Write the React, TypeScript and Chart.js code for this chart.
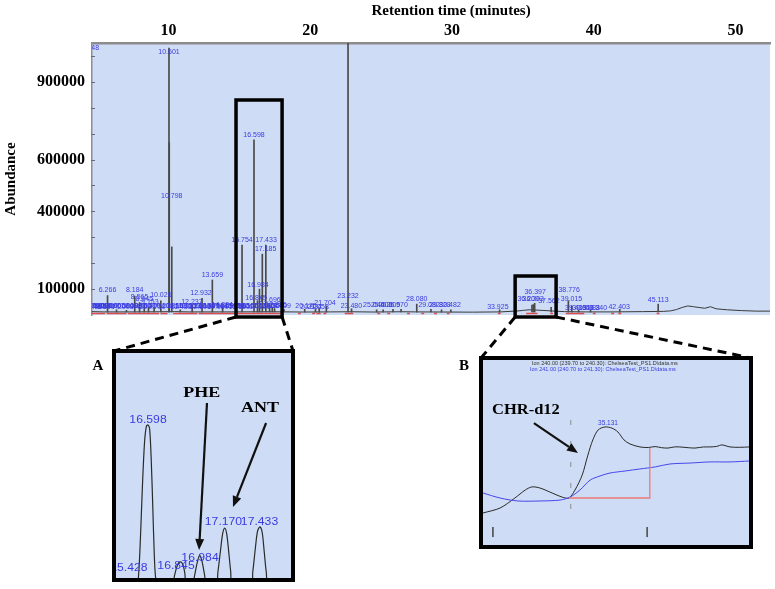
import React, { useEffect, useRef } from 'react';
import { Chart, registerables } from 'chart.js';

Chart.register(...registerables);

const SERIF = "'Liberation Serif', 'Times New Roman', serif";
const SANS = "'Liberation Sans', Arial, sans-serif";
const BG = 'rgb(206,221,245)';
const LABEL_BLUE = 'rgb(58,58,225)';

// ---------- main chromatogram ----------
const xTickValues = [10, 20, 30, 40, 50];
const yTickValues = [100000, 400000, 600000, 900000];
const yMinorTicks = [100000, 200000, 300000, 400000, 500000, 600000, 700000, 800000, 900000, 1000000];

const baselineTimes = [5.17, 6, 8, 10, 11, 12, 15, 18, 20, 22, 23.5, 25, 27, 28, 30, 32, 34, 35.3, 35.6, 36.0, 36.5, 37.2, 37.8, 38.5, 40, 42, 44, 45.5, 46.0, 46.4, 46.8, 47.2, 47.6, 48.0, 48.4, 48.8, 49.2, 50, 51, 52, 53];
const baselineValues = [13000, 12000, 12000, 12500, 13000, 12000, 12000, 12500, 11500, 12000, 12500, 11500, 12500, 12000, 11500, 11000, 12000, 16000, 18000, 20000, 19000, 17000, 15000, 13000, 12000, 12000, 13000, 14000, 16000, 21000, 29000, 35000, 32000, 29000, 26000, 32000, 24000, 20000, 17000, 15000, 15000];

const peakBase = 11500;
const peakTimes = [6.266, 6.9, 7.6, 8.184, 8.525, 8.855, 9.153, 9.55, 10.026, 10.601, 10.62, 10.798, 11.4, 12.237, 12.932, 13.659, 14.384, 15.754, 16.598, 16.845, 16.984, 17.185, 17.433, 17.696, 17.886, 18.05, 18.709, 20.175, 20.934, 21.2, 21.704, 23.232, 23.48, 25.25, 25.71, 26.406, 26.97, 28.08, 29.082, 29.828, 30.482, 33.925, 36.209, 36.303, 36.397, 37.562, 38.776, 39.015, 39.5, 40.34, 42.403, 45.113];
const peakHeights = [75000, 20000, 18000, 73000, 48000, 45000, 30000, 28000, 55000, 1030000, 665000, 263000, 20000, 38000, 64000, 135000, 30000, 270000, 676000, 55000, 100000, 235000, 270000, 38000, 30000, 25000, 22000, 22000, 22000, 25000, 35000, 1050000, 24000, 20000, 20000, 22000, 22000, 42000, 22000, 20000, 20000, 20000, 38000, 40000, 45000, 30000, 55000, 35000, 18000, 18000, 22000, 42000];

const mainLabelTexts = ['5.048', '6.266', '8.184', '8.565', '8.945', '9.153', '10.026', '10.601', '10.798', '12.237', '12.932', '13.659', '14.384', '15.754', '16.598', '16.984', '16.845', '17.433', '17.185', '17.696', '17.886', '18.709', '20.175', '20.934', '21.058', '21.704', '23.232', '23.480', '25.044', '25.606', '26.205', '26.970', '28.080', '29.082', '29.828', '30.482', '33.925', '36.397', '36.209', '36.303', '37.562', '38.776', '39.015', '39.413', '39.653', '39.988', '40.340', '42.403', '45.113'];
const mainLabelTimes = [5.05, 6.266, 8.184, 8.53, 8.86, 9.25, 10.026, 10.601, 10.798, 12.22, 12.86, 13.659, 14.36, 15.754, 16.598, 16.88, 16.74, 17.45, 17.42, 17.73, 18.15, 18.45, 20.27, 20.62, 21.12, 21.61, 23.232, 23.47, 25.05, 25.6, 26.15, 26.7, 28.08, 28.95, 29.72, 30.43, 33.8, 36.43, 35.94, 36.3, 37.4, 38.83, 39.0, 39.3, 39.8, 40.25, 40.75, 42.36, 45.113];
const mainLabelValues = [1030000, 96500, 96500, 69500, 62000, 50000, 77000, 1015000, 459000, 50000, 85000, 154000, 38600, 289500, 695000, 116000, 65600, 289500, 255000, 58000, 38600, 35000, 35000, 31000, 31000, 46000, 73000, 35000, 38600, 38600, 38600, 38600, 62000, 38600, 38600, 38600, 31000, 89000, 62000, 62000, 54000, 96500, 62000, 27000, 27000, 27000, 27000, 31000, 58000];

// dense run of peak labels along the baseline
const clusterLabelTimes = [5.25, 5.4, 5.55, 5.7, 5.85, 6.0, 6.15, 6.4, 6.6, 6.9, 7.2, 7.5, 7.8, 8.1, 8.45, 8.75, 9.05, 9.4, 9.75, 10.2, 10.85, 11.15, 11.45, 11.75, 12.05, 12.5, 12.8, 13.1, 13.4, 13.75, 14.05, 14.65, 14.95, 15.25, 15.55, 15.85, 16.15, 16.45, 17.0, 17.3, 17.65, 17.95];
const clusterLabelValues = [33000, 36000, 32000, 35000, 33000, 36000, 32000, 34000, 33000, 35000, 32000, 34000, 33000, 36000, 31000, 34000, 33000, 35000, 32000, 34000, 33000, 36000, 32000, 34000, 33000, 35000, 32000, 34000, 33000, 35000, 32000, 34000, 33000, 36000, 32000, 34000, 33000, 35000, 32000, 34000, 33000, 35000];

const integrationStarts = [5.17, 6.2, 7.7, 10.0, 10.9, 12.7, 15.4, 19.7, 20.7, 21.0, 21.5, 23.0, 25.3, 26.0, 27.4, 28.4, 29.3, 30.2, 33.8, 35.8, 37.5, 38.6, 40.5, 41.8, 42.3, 45.0];
const integrationEnds = [6.1, 7.6, 9.9, 10.5, 12.6, 15.3, 18.5, 19.9, 20.9, 21.3, 21.7, 23.6, 25.5, 26.2, 27.6, 28.6, 29.5, 30.4, 34.0, 36.6, 37.7, 39.9, 40.7, 42.0, 42.5, 45.2];
const integrationLevel = 6000;

// zoom windows marked on the main trace (time range, top abundance)
const zoomRangeA = [15.33, 18.58];
const zoomTopA = 830000;
const zoomRangeB = [35.02, 37.91];
const zoomTopB = 150500;

// ---------- inset A (PHE / ANT) ----------
const insetATimes = [16.359, 16.515, 16.527, 16.54, 16.556, 16.572, 16.586, 16.598, 16.61, 16.622, 16.634, 16.645, 16.655, 16.67, 16.78, 16.795, 16.81, 16.825, 16.845, 16.86, 16.872, 16.885, 16.93, 16.945, 16.965, 16.984, 17.003, 17.02, 17.035, 17.105, 17.12, 17.14, 17.155, 17.17, 17.185, 17.2, 17.215, 17.23, 17.365, 17.38, 17.4, 17.415, 17.433, 17.45, 17.465, 17.48, 17.5, 17.665];
const insetAValues = [-40000, -40000, 0, 150000, 400000, 600000, 672000, 677000, 660000, 520000, 300000, 90000, -10000, -40000, -40000, 0, 35000, 58000, 63000, 48000, 15000, -40000, -40000, 0, 60000, 94000, 60000, 5000, -40000, -40000, 20000, 120000, 190000, 215000, 190000, 110000, 20000, -40000, -40000, 20000, 130000, 200000, 220000, 195000, 110000, 20000, -40000, -40000];
const insetALabelTexts = ['16.598', '16.845', '16.984', '17.170', '17.433', '15.428'];
const insetALabelTimes = [16.598, 16.807, 16.986, 17.161, 17.43, 16.455];
const insetALabelValues = [699600, 44800, 80700, 242000, 242000, 36000];

// ---------- inset B (CHR-d12) ----------
const ion240Times = [34.81, 34.855, 34.894, 34.921, 34.939, 34.96, 34.992, 35.018, 35.036, 35.052, 35.071, 35.086, 35.099, 35.113, 35.131, 35.149, 35.165, 35.181, 35.197, 35.223, 35.245, 35.263, 35.28, 35.297, 35.313, 35.328, 35.35, 35.368, 35.39, 35.407, 35.425, 35.439, 35.46, 35.485, 35.51];
const ion240Values = [173, 200, 254, 297, 314, 308, 281, 259, 254, 297, 378, 486, 568, 622, 638, 632, 611, 568, 546, 530, 527, 532, 526, 524, 530, 530, 526, 524, 530, 530, 533, 541, 530, 528, 530];
const ion241Times = [34.81, 34.855, 34.902, 34.96, 35.013, 35.039, 35.065, 35.092, 35.118, 35.144, 35.184, 35.223, 35.263, 35.302, 35.355, 35.407, 35.46, 35.51];
const ion241Values = [281, 254, 238, 238, 243, 259, 297, 351, 373, 389, 400, 411, 422, 438, 443, 449, 449, 454];
const insetBBaseTimes = [35.036, 35.249, 35.249];
const insetBBaseValues = [254, 254, 524];
const insetBMarkerTime = 35.041;
const insetBMarkerValues = [676, 162];
const insetBTickTimes = [34.836, 35.242];
const insetBTickValues = [97, 43];
const insetBPeakLabel = '35.131';
const insetBPeakLabelTime = 35.139;
const insetBPeakLabelValue = 659;
const insetBHeader = [
  'Ion 240.00 (239.70 to 240.30): ChelseaTest_PS1.D\\data.ms',
  'Ion 241.00 (240.70 to 241.30): ChelseaTest_PS1.D\\data.ms',
];

// layout of the inset panels (page pixels)
const INSET_A = { left: 112, top: 349, width: 183, height: 233 };
const INSET_B = { left: 479, top: 356, width: 274, height: 193 };
const BORDER = 4;

function stretchText(ctx: CanvasRenderingContext2D, text: string, x: number, y: number, sx: number) {
  ctx.save();
  ctx.translate(x, y);
  ctx.scale(sx, 1);
  ctx.fillText(text, 0, 0);
  ctx.restore();
}

function arrow(ctx: CanvasRenderingContext2D, x1: number, y1: number, x2: number, y2: number) {
  const head = 11;
  const half = 4.5;
  const ang = Math.atan2(y2 - y1, x2 - x1);
  const bx = x2 - head * Math.cos(ang);
  const by = y2 - head * Math.sin(ang);
  ctx.save();
  ctx.strokeStyle = '#111';
  ctx.fillStyle = '#111';
  ctx.lineWidth = 2.2;
  ctx.beginPath();
  ctx.moveTo(x1, y1);
  ctx.lineTo(bx, by);
  ctx.stroke();
  ctx.beginPath();
  ctx.moveTo(x2, y2);
  ctx.lineTo(bx + half * Math.sin(ang), by - half * Math.cos(ang));
  ctx.lineTo(bx - half * Math.sin(ang), by + half * Math.cos(ang));
  ctx.closePath();
  ctx.fill();
  ctx.restore();
}

const bgPlugin = {
  id: 'bgFill',
  beforeDraw(chart: any) {
    const { ctx, chartArea: a } = chart;
    ctx.save();
    ctx.fillStyle = BG;
    ctx.fillRect(a.left, a.top, a.right - a.left, a.bottom - a.top);
    ctx.restore();
  },
};

export default function App() {
  const mainRef = useRef<HTMLCanvasElement>(null);
  const aRef = useRef<HTMLCanvasElement>(null);
  const bRef = useRef<HTMLCanvasElement>(null);

  useEffect(() => {
    const segData: any[] = [];
    integrationStarts.forEach((s, i) => {
      segData.push({ x: s, y: integrationLevel });
      segData.push({ x: integrationEnds[i], y: integrationLevel });
      segData.push({ x: integrationEnds[i], y: null });
    });

    const mainDecor = {
      id: 'mainDecor',
      afterDatasetsDraw(chart: any) {
        const { ctx, chartArea: a, scales } = chart;
        const xs = scales.x;
        const ys = scales.y;
        ctx.save();
        ctx.beginPath();
        ctx.rect(a.left, a.top, a.right - a.left, a.bottom - a.top);
        ctx.clip();
        ctx.fillStyle = LABEL_BLUE;
        ctx.font = `7px ${SANS}`;
        ctx.textAlign = 'center';
        ctx.textBaseline = 'middle';
        clusterLabelTimes.forEach((t, i) => {
          ctx.fillText(t.toFixed(3), xs.getPixelForValue(t), ys.getPixelForValue(clusterLabelValues[i]));
        });
        mainLabelTexts.forEach((txt, i) => {
          ctx.fillText(txt, xs.getPixelForValue(mainLabelTimes[i]), ys.getPixelForValue(mainLabelValues[i]));
        });
        ctx.restore();
      },
      afterDraw(chart: any) {
        const { ctx, chartArea: a, scales } = chart;
        const xs = scales.x;
        const ys = scales.y;
        ctx.save();
        // minor tick marks on the abundance axis
        ctx.strokeStyle = '#6a6a7a';
        ctx.lineWidth = 1;
        yMinorTicks.forEach((v) => {
          const y = Math.round(ys.getPixelForValue(v)) + 0.5;
          ctx.beginPath();
          ctx.moveTo(a.left - 1, y);
          ctx.lineTo(a.left + 3, y);
          ctx.stroke();
        });
        // axis title on top
        ctx.fillStyle = '#000';
        ctx.font = `bold 15px ${SERIF}`;
        ctx.textAlign = 'center';
        ctx.textBaseline = 'middle';
        ctx.fillText('Retention time (minutes)', xs.getPixelForValue(30.5), 11);

        // zoom boxes
        ctx.strokeStyle = '#000';
        ctx.lineWidth = 3.5;
        const bottom = a.bottom + 2;
        const ax1 = xs.getPixelForValue(zoomRangeA[0]);
        const ax2 = xs.getPixelForValue(zoomRangeA[1]);
        const ay = ys.getPixelForValue(zoomTopA);
        ctx.strokeRect(ax1, ay, ax2 - ax1, bottom - ay);
        const bx1 = xs.getPixelForValue(zoomRangeB[0]);
        const bx2 = xs.getPixelForValue(zoomRangeB[1]);
        const by = ys.getPixelForValue(zoomTopB);
        ctx.strokeRect(bx1, by, bx2 - bx1, bottom - by);

        // dashed connectors to the insets
        ctx.lineWidth = 3;
        ctx.setLineDash([9, 6]);
        const seg = (x1: number, y1: number, x2: number, y2: number) => {
          ctx.beginPath();
          ctx.moveTo(x1, y1);
          ctx.lineTo(x2, y2);
          ctx.stroke();
        };
        seg(ax1, bottom, INSET_A.left + 2, INSET_A.top + 2);
        seg(ax2, bottom, INSET_A.left + INSET_A.width - 2, INSET_A.top + 2);
        seg(bx1, bottom, INSET_B.left + 2, INSET_B.top + 2);
        seg(bx2, bottom, INSET_B.left + INSET_B.width - 2, INSET_B.top + 2);
        ctx.setLineDash([]);

        // panel letters
        ctx.font = `bold 15px ${SERIF}`;
        ctx.fillText('A', INSET_A.left - 14, INSET_A.top + 17);
        ctx.fillText('B', INSET_B.left - 15, INSET_B.top + 10);
        ctx.restore();
      },
    };

    const main = new Chart(mainRef.current as HTMLCanvasElement, {
      type: 'bar',
      data: {
        datasets: [
          {
            type: 'line',
            label: 'integration',
            data: segData,
            borderColor: 'rgba(225,60,60,0.9)',
            borderWidth: 1.5,
            pointRadius: 0,
            spanGaps: false,
            order: 3,
          } as any,
          {
            type: 'line',
            label: 'TIC baseline',
            data: baselineTimes.map((t, i) => ({ x: t, y: baselineValues[i] })),
            borderColor: '#3a3a3a',
            borderWidth: 1,
            pointRadius: 0,
            tension: 0,
            order: 2,
          } as any,
          {
            type: 'bar',
            label: 'TIC peaks',
            data: peakTimes.map((t, i) => ({ x: t, y: [peakBase, peakHeights[i]] })),
            backgroundColor: '#4a4a4a',
            borderWidth: 0,
            barThickness: 1,
            order: 1,
          } as any,
        ],
      },
      options: {
        animation: false,
        responsive: false,
        maintainAspectRatio: false,
        layout: { padding: { left: 0, right: 5, top: 0, bottom: 274 } },
        plugins: { legend: { display: false }, tooltip: { enabled: false } },
        scales: {
          x: {
            type: 'linear',
            position: 'top',
            min: 5.17,
            max: 53.0,
            offset: false,
            afterBuildTicks: (s: any) => {
              s.ticks = xTickValues.map((v) => ({ value: v }));
            },
            afterFit: (s: any) => {
              s.height = 43;
            },
            grid: { display: false, drawTicks: false },
            border: { display: true, color: '#8c8c8c', width: 2.5 },
            ticks: {
              color: '#000',
              font: { family: SERIF, weight: 'bold', size: 16 },
              labelOffset: 8,
              padding: 3,
              maxRotation: 0,
              autoSkip: false,
              callback: (v: any) => String(v),
            },
          },
          y: {
            type: 'linear',
            min: 0,
            max: 1050000,
            afterBuildTicks: (s: any) => {
              s.ticks = yTickValues.map((v) => ({ value: v }));
            },
            afterFit: (s: any) => {
              s.width = 92;
            },
            grid: { display: false, drawTicks: false },
            border: { display: true, color: '#8c8c9c', width: 1.5 },
            ticks: {
              color: '#000',
              font: { family: SERIF, weight: 'bold', size: 16 },
              padding: 7,
              autoSkip: false,
              callback: (v: any) => String(v),
            },
            title: {
              display: true,
              text: 'Abundance',
              color: '#000',
              font: { family: SERIF, weight: 'bold', size: 15 },
              padding: { top: 2, bottom: 0 },
            },
          },
        },
      } as any,
      plugins: [bgPlugin, mainDecor],
    });

    // ----- inset A -----
    const insetADecor = {
      id: 'insetADecor',
      afterDatasetsDraw(chart: any) {
        const { ctx, chartArea: a, scales } = chart;
        const xs = scales.x;
        const ys = scales.y;
        ctx.save();
        ctx.beginPath();
        ctx.rect(a.left, a.top, a.right - a.left, a.bottom - a.top);
        ctx.clip();
        ctx.fillStyle = LABEL_BLUE;
        ctx.font = `10px ${SANS}`;
        ctx.textAlign = 'center';
        ctx.textBaseline = 'middle';
        insetALabelTexts.forEach((txt, i) => {
          stretchText(ctx, txt, xs.getPixelForValue(insetALabelTimes[i]), ys.getPixelForValue(insetALabelValues[i]), 1.22);
        });
        ctx.fillStyle = '#000';
        ctx.font = `bold 15px ${SERIF}`;
        stretchText(ctx, 'PHE', xs.getPixelForValue(16.999), ys.getPixelForValue(820600), 1.2);
        stretchText(ctx, 'ANT', xs.getPixelForValue(17.434), ys.getPixelForValue(753400), 1.2);
        arrow(ctx, xs.getPixelForValue(17.038), ys.getPixelForValue(775800), xs.getPixelForValue(16.979), ys.getPixelForValue(116600));
        arrow(ctx, xs.getPixelForValue(17.479), ys.getPixelForValue(686000), xs.getPixelForValue(17.232), ys.getPixelForValue(309000));
        ctx.restore();
      },
    };

    const insetA = new Chart(aRef.current as HTMLCanvasElement, {
      type: 'line',
      data: {
        datasets: [
          {
            label: 'TIC detail',
            data: insetATimes.map((t, i) => ({ x: t, y: insetAValues[i] })),
            borderColor: '#2a2a2a',
            borderWidth: 1.2,
            pointRadius: 0,
            tension: 0.3,
          },
        ],
      },
      options: {
        animation: false,
        responsive: false,
        maintainAspectRatio: false,
        layout: { padding: 0 },
        plugins: { legend: { display: false }, tooltip: { enabled: false } },
        scales: {
          x: { type: 'linear', display: false, min: 16.359, max: 17.665 },
          y: { type: 'linear', display: false, min: -9000, max: 1000000 },
        },
      } as any,
      plugins: [bgPlugin, insetADecor],
    });

    // ----- inset B -----
    const insetBDecor = {
      id: 'insetBDecor',
      afterDatasetsDraw(chart: any) {
        const { ctx, chartArea: a, scales } = chart;
        const xs = scales.x;
        const ys = scales.y;
        ctx.save();
        ctx.textBaseline = 'middle';
        ctx.textAlign = 'left';
        ctx.font = `5.5px ${SANS}`;
        ctx.fillStyle = '#333';
        ctx.fillText(insetBHeader[0], a.left + 49, a.top + 3);
        ctx.fillStyle = LABEL_BLUE;
        ctx.fillText(insetBHeader[1], a.left + 47, a.top + 9);
        ctx.textAlign = 'center';
        ctx.font = `6.5px ${SANS}`;
        ctx.fillText(insetBPeakLabel, xs.getPixelForValue(insetBPeakLabelTime), ys.getPixelForValue(insetBPeakLabelValue));
        ctx.fillStyle = '#000';
        ctx.font = `bold 15px ${SERIF}`;
        stretchText(ctx, 'CHR-d12', xs.getPixelForValue(34.923), ys.getPixelForValue(730), 1.1);
        arrow(ctx, xs.getPixelForValue(34.944), ys.getPixelForValue(659), xs.getPixelForValue(35.06), ys.getPixelForValue(497));
        ctx.restore();
      },
    };

    const tickData: any[] = [];
    insetBTickTimes.forEach((t) => {
      tickData.push({ x: t, y: insetBTickValues[0] });
      tickData.push({ x: t, y: insetBTickValues[1] });
      tickData.push({ x: t, y: null });
    });

    const insetB = new Chart(bRef.current as HTMLCanvasElement, {
      type: 'line',
      data: {
        datasets: [
          {
            label: 'integration',
            data: insetBBaseTimes.map((t, i) => ({ x: t, y: insetBBaseValues[i] })),
            borderColor: 'rgb(235,120,120)',
            borderWidth: 1.3,
            pointRadius: 0,
          },
          {
            label: 'marker',
            data: insetBMarkerValues.map((v) => ({ x: insetBMarkerTime, y: v })),
            borderColor: '#8a8a8a',
            borderWidth: 1,
            borderDash: [5, 16],
            pointRadius: 0,
          },
          {
            label: 'ticks',
            data: tickData,
            borderColor: '#555',
            borderWidth: 1,
            pointRadius: 0,
            spanGaps: false,
          },
          {
            label: 'Ion 241',
            data: ion241Times.map((t, i) => ({ x: t, y: ion241Values[i] })),
            borderColor: 'rgb(70,70,235)',
            borderWidth: 1,
            pointRadius: 0,
            tension: 0.3,
          },
          {
            label: 'Ion 240',
            data: ion240Times.map((t, i) => ({ x: t, y: ion240Values[i] })),
            borderColor: '#2a2a2a',
            borderWidth: 1,
            pointRadius: 0,
            tension: 0.3,
          },
        ],
      },
      options: {
        animation: false,
        responsive: false,
        maintainAspectRatio: false,
        layout: { padding: 0 },
        plugins: { legend: { display: false }, tooltip: { enabled: false } },
        scales: {
          x: { type: 'linear', display: false, min: 34.81, max: 35.51 },
          y: { type: 'linear', display: false, min: 0, max: 1000 },
        },
      } as any,
      plugins: [bgPlugin, insetBDecor],
    });

    return () => {
      main.destroy();
      insetA.destroy();
      insetB.destroy();
    };
  }, []);

  const panel = (p: { left: number; top: number; width: number; height: number }): React.CSSProperties => ({
    position: 'absolute',
    left: p.left,
    top: p.top,
    width: p.width,
    height: p.height,
    border: `${BORDER}px solid #000`,
    boxSizing: 'border-box',
    background: BG,
  });

  return (
    <div style={{ position: 'fixed', left: 0, top: 0, width: 775, height: 589, background: '#fff', overflow: 'hidden' }}>
      <canvas ref={mainRef} width={775} height={589} style={{ position: 'absolute', left: 0, top: 0, display: 'block' }} />
      <div style={panel(INSET_A)}>
        <canvas ref={aRef} width={INSET_A.width - 2 * BORDER} height={INSET_A.height - 2 * BORDER} style={{ display: 'block' }} />
      </div>
      <div style={panel(INSET_B)}>
        <canvas ref={bRef} width={INSET_B.width - 2 * BORDER} height={INSET_B.height - 2 * BORDER} style={{ display: 'block' }} />
      </div>
    </div>
  );
}
